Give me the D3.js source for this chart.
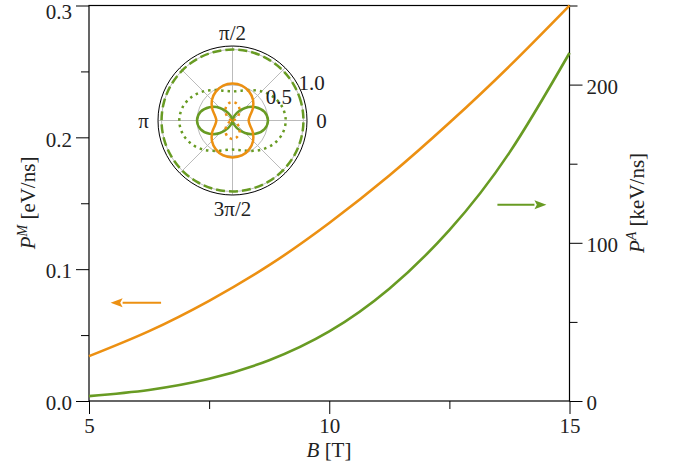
<!DOCTYPE html>
<html>
<head>
<meta charset="utf-8">
<script src="https://cdn.jsdelivr.net/npm/d3@7"></script>
<style>
    body { margin: 0; background: #fff; }
    svg { display: block; }
    .axis path { display: none; }
    .axis line { stroke: #000; stroke-width: 1; }
</style>
</head>
<body>
<svg id="chart" width="681" height="472"></svg>
<script>
// magnetic field values and the two power curves
var fieldB = [5, 6.25, 7.5, 8.75, 10, 11.25, 12.5, 13.75, 15];
var powerM = [0.034, 0.053, 0.076, 0.103, 0.135, 0.171, 0.211, 0.254, 0.300];  // eV/ns, left axis
var powerA = [3.1, 7.0, 14.0, 25.8, 44, 71, 108, 157, 220];                    // keV/ns, right axis

var xTicks = [5, 10, 15];
var xMinor = [7.5, 12.5];
var leftTicks = [0, 0.1, 0.2, 0.3];
var leftMinor = [0.05, 0.15, 0.25];
var rightTicks = [0, 100, 200];
var rightMinor = [50, 150, 250];

// arrows pointing each curve to its axis (data coordinates)
var arrowM = { from: [6.5, 0.0745], to: [5.45, 0.0745] };
var arrowA = { from: [13.5, 124], to: [14.52, 124] };

// inset: angular distribution, r sampled every 15 degrees
var polarAngles = [0, 15, 30, 45, 60, 75, 90, 105, 120, 135, 150, 165,
                   180, 195, 210, 225, 240, 255, 270, 285, 300, 315, 330, 345];
var greenDashed = [1, 1, 1, 1, 1, 1, 1, 1, 1, 1, 1, 1,
                   1, 1, 1, 1, 1, 1, 1, 1, 1, 1, 1, 1];
var greenDotted = [0.75, 0.727, 0.665, 0.58, 0.495, 0.433, 0.41, 0.433, 0.495, 0.58, 0.665, 0.727,
                   0.75, 0.727, 0.665, 0.58, 0.495, 0.433, 0.41, 0.433, 0.495, 0.58, 0.665, 0.727];
var greenSolid = [0.5, 0.467, 0.375, 0.25, 0.125, 0.033, 0, 0.033, 0.125, 0.25, 0.375, 0.467,
                  0.5, 0.467, 0.375, 0.25, 0.125, 0.033, 0, 0.033, 0.125, 0.25, 0.375, 0.467];
var orangeSolid = [0.228, 0.255, 0.33, 0.41, 0.47, 0.51, 0.52, 0.51, 0.47, 0.41, 0.33, 0.255,
                   0.228, 0.255, 0.33, 0.41, 0.47, 0.51, 0.52, 0.51, 0.47, 0.41, 0.33, 0.255];
var orangeDotted = [0, 0.017, 0.065, 0.13, 0.195, 0.243, 0.26, 0.243, 0.195, 0.13, 0.065, 0.017,
                    0, 0.017, 0.065, 0.13, 0.195, 0.243, 0.26, 0.243, 0.195, 0.13, 0.065, 0.017];
var radialTicks = [0.5, 1.0];
var angleLabels = [
    { deg: 0, text: "0" },
    { deg: 90, text: "π/2" },
    { deg: 180, text: "π" },
    { deg: 270, text: "3π/2" }
];

var ORANGE = "#ec9012";
var GREEN = "#689b23";
var FONT = "'Liberation Serif', serif";

var svg = d3.select("#chart");

var x = d3.scaleLinear().domain([5, 15]).range([89, 569.5]);
var yL = d3.scaleLinear().domain([0, 0.3]).range([401, 5.5]);
var yR = d3.scaleLinear().domain([0, 250]).range([401, 5.5]);

// axes
function drawAxis(axisFn, scale, major, minor, fmt, transform) {
    var g = svg.append("g")
        .attr("class", "axis")
        .attr("transform", transform)
        .call(axisFn(scale).tickValues(major).tickFormat(fmt).tickSize(13).tickPadding(4).tickSizeOuter(0));
    svg.append("g")
        .attr("class", "axis")
        .attr("transform", transform)
        .call(axisFn(scale).tickValues(minor).tickFormat("").tickSize(8).tickSizeOuter(0));
    g.attr("font-family", FONT).attr("font-size", 21);
    g.selectAll(".tick text").attr("fill", "#222");
    return g;
}

drawAxis(d3.axisBottom, x, xTicks, xMinor, d3.format("d"), "translate(0,401)");
var leftAxis = drawAxis(d3.axisLeft, yL, leftTicks, leftMinor, d3.format(".1f"), "translate(89,0)");
var rightAxis = drawAxis(d3.axisRight, yR, rightTicks, rightMinor, d3.format("d"), "translate(569.5,0)");

leftAxis.selectAll(".tick text").attr("dy", "0.42em");
rightAxis.selectAll(".tick text").attr("dy", "0.42em");
leftAxis.selectAll(".tick text").filter(d => d === 0.3).attr("dy", "0.62em");

// frame
svg.append("rect")
    .attr("x", 89)
    .attr("y", 5.5)
    .attr("width", 480.5)
    .attr("height", 395.5)
    .attr("fill", "none")
    .attr("stroke", "#000")
    .attr("stroke-width", 1.2);

// curves
var lineM = d3.line()
    .x((d, i) => x(fieldB[i]))
    .y(d => yL(d))
    .curve(d3.curveNatural);
var lineA = d3.line()
    .x((d, i) => x(fieldB[i]))
    .y(d => yR(d))
    .curve(d3.curveNatural);

svg.append("path")
    .attr("d", lineM(powerM))
    .attr("fill", "none")
    .attr("stroke", ORANGE)
    .attr("stroke-width", 2.6);
svg.append("path")
    .attr("d", lineA(powerA))
    .attr("fill", "none")
    .attr("stroke", GREEN)
    .attr("stroke-width", 2.6);

// arrows
function drawArrow(a, yScale, color) {
    var x0 = x(a.from[0]), y0 = yScale(a.from[1]);
    var x1 = x(a.to[0]), y1 = yScale(a.to[1]);
    var dir = x1 > x0 ? 1 : -1;
    var headLen = 12, headHalf = 4.5;
    svg.append("line")
        .attr("x1", x0)
        .attr("y1", y0)
        .attr("x2", x1 - dir * headLen)
        .attr("y2", y1)
        .attr("stroke", color)
        .attr("stroke-width", 2);
    svg.append("path")
        .attr("d", "M" + x1 + "," + y1 +
            "L" + (x1 - dir * headLen) + "," + (y1 - headHalf) +
            "L" + (x1 - dir * headLen * 0.8) + "," + y1 +
            "L" + (x1 - dir * headLen) + "," + (y1 + headHalf) + "Z")
        .attr("fill", color);
}
drawArrow(arrowM, yL, ORANGE);
drawArrow(arrowA, yR, GREEN);

// axis labels
svg.append("text")
    .attr("x", 329)
    .attr("y", 457)
    .attr("text-anchor", "middle")
    .attr("font-family", FONT)
    .attr("font-size", 21)
    .attr("fill", "#222")
    .html('<tspan font-style="italic">B</tspan> [T]');

svg.append("text")
    .attr("transform", "translate(35,203) rotate(-90)")
    .attr("text-anchor", "middle")
    .attr("font-family", FONT)
    .attr("font-size", 21)
    .attr("fill", "#222")
    .html('<tspan font-style="italic">P</tspan><tspan font-style="italic" font-size="14" dy="-8">M</tspan><tspan dy="8"> [eV/ns]</tspan>');

svg.append("text")
    .attr("transform", "translate(644,203) rotate(-90)")
    .attr("text-anchor", "middle")
    .attr("font-family", FONT)
    .attr("font-size", 21)
    .attr("fill", "#222")
    .html('<tspan font-style="italic">P</tspan><tspan font-style="italic" font-size="14" dy="-8">A</tspan><tspan dy="8"> [keV/ns]</tspan>');

// inset polar plot
var inset = svg.append("g").attr("transform", "translate(232.5,120.5)");
var r = d3.scaleLinear().domain([0, 1.05]).range([0, 74.5]);

inset.append("circle")
    .attr("r", r(1.05))
    .attr("fill", "#fff");

inset.selectAll(".rgrid")
    .data(radialTicks)
    .join("circle")
    .attr("r", d => r(d))
    .attr("fill", "none")
    .attr("stroke", "#bbb")
    .attr("stroke-width", 1);

inset.selectAll(".agrid")
    .data(d3.range(0, 360, 45))
    .join("line")
    .attr("x1", 0)
    .attr("y1", 0)
    .attr("x2", d => r(1.05) * Math.cos(d * Math.PI / 180))
    .attr("y2", d => -r(1.05) * Math.sin(d * Math.PI / 180))
    .attr("stroke", "#bbb")
    .attr("stroke-width", 1);

var radial = d3.lineRadial()
    .angle((d, i) => Math.PI / 2 - polarAngles[i] * Math.PI / 180)
    .radius(d => r(d))
    .curve(d3.curveCatmullRomClosed);

var polarSeries = [
    { values: greenDashed, color: GREEN, dash: "9,4" },
    { values: greenDotted, color: GREEN, dash: "2.5,4" },
    { values: greenSolid, color: GREEN, dash: null },
    { values: orangeDotted, color: ORANGE, dash: "2.5,4" },
    { values: orangeSolid, color: ORANGE, dash: null }
];

polarSeries.forEach(s => {
    inset.append("path")
        .attr("d", radial(s.values))
        .attr("fill", "none")
        .attr("stroke", s.color)
        .attr("stroke-width", 2.5)
        .attr("stroke-dasharray", s.dash);
});

inset.append("circle")
    .attr("r", r(1.05))
    .attr("fill", "none")
    .attr("stroke", "#000")
    .attr("stroke-width", 1);

// radial labels at 22.5 degrees
var labAng = 22.5 * Math.PI / 180;
inset.selectAll(".rlab")
    .data(radialTicks)
    .join("text")
    .attr("x", d => r(d) * Math.cos(labAng) + 0.5)
    .attr("y", d => -r(d) * Math.sin(labAng) - 3)
    .attr("font-family", FONT)
    .attr("font-size", 21)
    .attr("fill", "#222")
    .text(d => d3.format(".1f")(d));

inset.selectAll(".alab")
    .data(angleLabels)
    .join("text")
    .attr("x", d => 89 * Math.cos(d.deg * Math.PI / 180))
    .attr("y", d => -88 * Math.sin(d.deg * Math.PI / 180))
    .attr("text-anchor", "middle")
    .attr("dominant-baseline", "central")
    .attr("font-family", FONT)
    .attr("font-size", 21)
    .attr("fill", "#222")
    .text(d => d.text);
</script>
</body>
</html>
